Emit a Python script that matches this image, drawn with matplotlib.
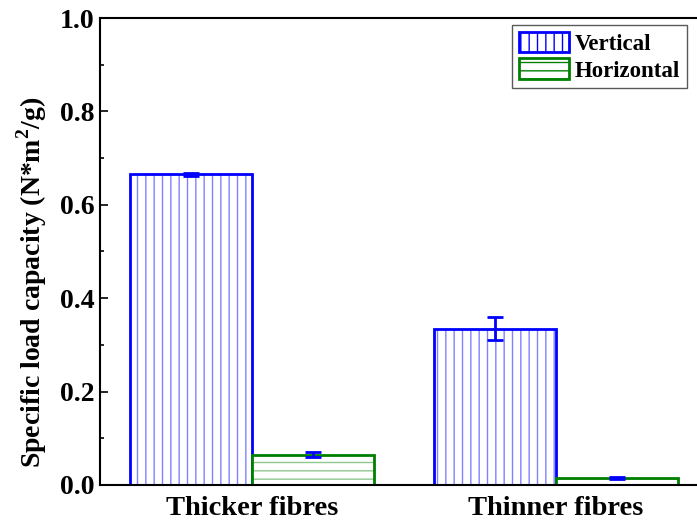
import matplotlib.pyplot as plt
import numpy as np
from matplotlib.patches import Patch

categories = ["Thicker fibres", "Thinner fibres"]
vertical = [0.665, 0.335]
vertical_err = [0.003, 0.025]
horizontal = [0.065, 0.015]
horizontal_err = [0.006, 0.002]

plt.rcParams["font.family"] = ["Liberation Serif", "DejaVu Serif"]
plt.rcParams["font.weight"] = "bold"
plt.rcParams["axes.labelweight"] = "bold"
plt.rcParams["mathtext.fontset"] = "custom"
plt.rcParams["mathtext.rm"] = "Liberation Serif:bold"
plt.rcParams["mathtext.bf"] = "Liberation Serif:bold"
plt.rcParams["hatch.linewidth"] = 1.0

fig = plt.figure(figsize=(6.97, 5.22), dpi=100)
ax = fig.add_axes([100 / 697, 37 / 522, 1 - 100 / 697, 467 / 522])

x = np.arange(1, len(categories) + 1)
w = 0.4

# hatch layer (lighter colour), then outline on top
ax.bar(x - w / 2, vertical, w, color="white", edgecolor="#8080ff", hatch="||", linewidth=0)
ax.bar(x - w / 2, vertical, w, fill=False, edgecolor="#0000ff", linewidth=2)
ax.bar(x + w / 2, horizontal, w, color="white", edgecolor="#90c890", hatch="--", linewidth=0)
ax.bar(x + w / 2, horizontal, w, fill=False, edgecolor="#008000", linewidth=2)

ax.errorbar(x - w / 2, vertical, yerr=vertical_err, fmt="none", ecolor="#0000ff",
            elinewidth=2, capsize=6, capthick=2)
ax.errorbar(x + w / 2, horizontal, yerr=horizontal_err, fmt="none", ecolor="#0000ff",
            elinewidth=2, capsize=6, capthick=2)

# legend proxies
h1 = Patch(facecolor="white", edgecolor="#0000ff", hatch="||", linewidth=2, label="Vertical")
h2 = Patch(facecolor="white", edgecolor="#008000", hatch="--", linewidth=2, label="Horizontal")
leg = ax.legend(handles=[h1, h2], loc="upper left", fontsize=16.5, frameon=True,
                fancybox=False, edgecolor="#303030", handlelength=2.2, handleheight=1.0,
                borderaxespad=0, borderpad=0.3, handletextpad=0.25, labelspacing=0.15,
                bbox_to_anchor=(512 / 697, 1 - 25 / 522), bbox_transform=fig.transFigure)
leg.get_frame().set_linewidth(1.0)

ax.set_xlim(0.5, 2.464)
ax.set_ylim(0, 1.0)
ax.set_xticks(x)
ax.set_xticklabels(categories, fontsize=20.5)
ax.set_yticks([0, 0.2, 0.4, 0.6, 0.8, 1.0])
ax.set_yticklabels(["0.0", "0.2", "0.4", "0.6", "0.8", "1.0"], fontsize=20)
ax.set_yticks(np.arange(0.1, 1.0, 0.2), minor=True)
ax.tick_params(axis="y", which="major", direction="in", length=6, width=1.2, pad=4)
ax.tick_params(axis="y", which="minor", direction="in", length=3, width=1.2)
ax.tick_params(axis="x", length=0, pad=8)
ax.set_ylabel("Specific load capacity (N*m$^2$/g)", fontsize=20)
ax.yaxis.set_label_coords(-0.086, 0.435)

for s in ["left", "bottom", "top"]:
    ax.spines[s].set_linewidth(1.5)
ax.spines["right"].set_visible(False)

fig.savefig("out.png", dpi=100)
